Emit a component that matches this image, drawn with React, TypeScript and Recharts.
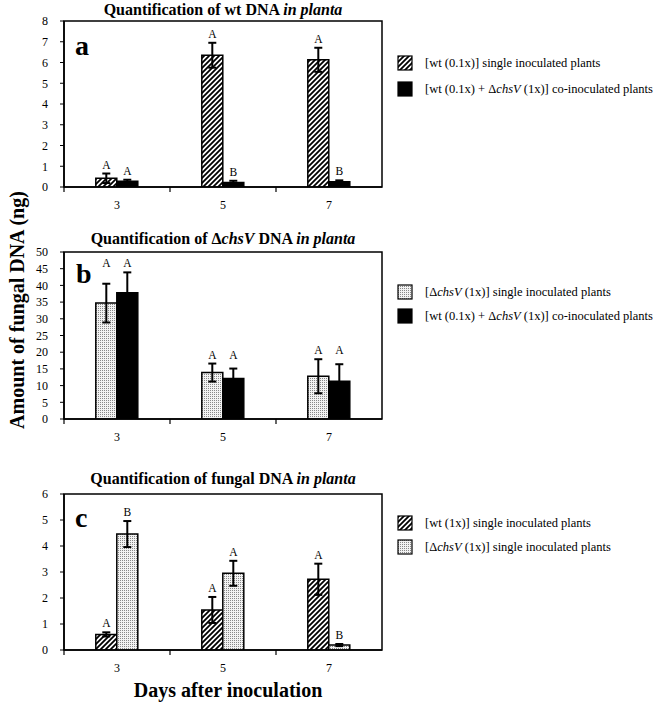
import React from 'react';
import { BarChart, Bar, XAxis, YAxis, ErrorBar, LabelList, ReferenceArea } from 'recharts';

const FONT = '"Liberation Serif", "Times New Roman", serif';

const days = ['3', '5', '7'];

// a: wt DNA in planta
const wtSingleA = [0.42, 6.35, 6.13];
const wtSingleErrA = [0.23, 0.6, 0.58];
const coInocA = [0.28, 0.22, 0.25];
const coInocErrA = [0.07, 0.08, 0.07];
const wtSingleLettersA = ['A', 'A', 'A'];
const coInocLettersA = ['A', 'B', 'B'];
const ticksA = [0, 1, 2, 3, 4, 5, 6, 7, 8];

// b: ΔchsV DNA in planta
const chsSingleB = [34.7, 13.9, 12.8];
const chsSingleErrB = [5.8, 2.7, 5.1];
const coInocB = [37.8, 12.1, 11.3];
const coInocErrB = [6.1, 3.0, 5.1];
const chsSingleLettersB = ['A', 'A', 'A'];
const coInocLettersB = ['A', 'A', 'A'];
const ticksB = [0, 5, 10, 15, 20, 25, 30, 35, 40, 45, 50];

// c: fungal DNA in planta
const wtSingleC = [0.6, 1.54, 2.72];
const wtSingleErrC = [0.08, 0.5, 0.6];
const chsSingleC = [4.46, 2.95, 0.19];
const chsSingleErrC = [0.5, 0.48, 0.04];
const wtSingleLettersC = ['A', 'A', 'A'];
const chsSingleLettersC = ['B', 'A', 'B'];
const ticksC = [0, 1, 2, 3, 4, 5, 6];

const makeRows = (v1: number[], e1: number[], v2: number[], e2: number[]) =>
  days.map((day, i) => ({ day, v1: v1[i], e1: e1[i], v2: v2[i], e2: e2[i] }));

// x ticks: Excel style marks between categories
const DayTick = (props: any) => {
  const { x, y, payload } = props;
  const half = payload?.offset ?? 53;
  return (
    <g>
      <line x1={x - half} x2={x - half} y1={y} y2={y + 5} stroke="#000" strokeWidth={1.2} />
      <text x={x} y={y + 18} textAnchor="middle" dominantBaseline="central" fontSize={12} fontFamily={FONT} fill="#000">
        {payload.value}
      </text>
    </g>
  );
};

const letterLabel = (
  letters: string[],
  vals: number[],
  errs: number[],
  groupTops: number[] | null,
) => (props: any) => {
  const { x, y, width, height, index } = props;
  const v = vals[index];
  if (!v) return null;
  const ppu = Number(height) / v;
  const top = groupTops ? groupTops[index] : v + errs[index];
  const ty = Number(y) + Number(height) - top * ppu - 5;
  return (
    <text x={Number(x) + Number(width) / 2} y={ty} textAnchor="middle" fontSize={11.5} fontFamily={FONT} fill="#000">
      {letters[index]}
    </text>
  );
};

type PanelProps = {
  top: number;
  height: number;
  plotTop: number;
  axisHeight: number;
  max: number;
  ticks: number[];
  v1: number[]; e1: number[]; l1: string[]; fill1: string;
  v2: number[]; e2: number[]; l2: string[]; fill2: string;
  alignLetters?: boolean;
};

function Panel(p: PanelProps) {
  const rows = makeRows(p.v1, p.e1, p.v2, p.e2);
  const groupTops = p.alignLetters
    ? days.map((_, i) => Math.max(p.v1[i] + p.e1[i], p.v2[i] + p.e2[i]))
    : null;
  return (
    <div style={{ position: 'absolute', left: 0, top: p.top }}>
      <BarChart
        width={658}
        height={p.height}
        data={rows}
        margin={{ top: p.plotTop - p.top, right: 276, bottom: 0, left: 0 }}
        barCategoryGap="30%"
        barGap={0}
      >
        <ReferenceArea y1={0} y2={p.max} fill="none" stroke="#000" strokeWidth={1.5} ifOverflow="visible" />
        <XAxis
          dataKey="day"
          height={p.axisHeight}
          interval={0}
          tickSize={0}
          tickMargin={0}
          tickLine={false}
          tick={<DayTick />}
          axisLine={{ stroke: '#000', strokeWidth: 1.5 }}
        />
        <YAxis
          width={64}
          domain={[0, p.max]}
          ticks={p.ticks}
          interval={0}
          allowDataOverflow
          tickSize={4}
          tickMargin={12}
          tickLine={{ stroke: '#000' }}
          axisLine={{ stroke: '#000', strokeWidth: 1.5 }}
          tick={{ fontSize: 12, fill: '#000', fontFamily: FONT }}
        />
        <Bar dataKey="v1" fill={p.fill1} stroke="#000" strokeWidth={1.5} isAnimationActive={false}>
          <ErrorBar dataKey="e1" width={4} stroke="#000" strokeWidth={2} direction="y" />
          <LabelList dataKey="v1" content={letterLabel(p.l1, p.v1, p.e1, groupTops)} />
        </Bar>
        <Bar dataKey="v2" fill={p.fill2} stroke="#000" strokeWidth={1.5} isAnimationActive={false}>
          <ErrorBar dataKey="e2" width={4} stroke="#000" strokeWidth={2} direction="y" />
          <LabelList dataKey="v2" content={letterLabel(p.l2, p.v2, p.e2, groupTops)} />
        </Bar>
      </BarChart>
    </div>
  );
}

const HATCH = 'url(#hatch)';
const DOTS = 'url(#dots)';
const BLACK = '#000';

const chs = (
  <>
    Δ<tspan fontStyle="italic">chsV</tspan>
  </>
);

function LegendRow({ y, fill, children }: { y: number; fill: string; children: React.ReactNode }) {
  return (
    <g>
      <rect x={398} y={y - 7} width={14} height={14} fill={fill} stroke="#000" strokeWidth={1.2} />
      <text x={425} y={y + 4} fontSize={12.5} fontFamily={FONT} fill="#000">
        {children}
      </text>
    </g>
  );
}

export default function App() {
  return (
    <div style={{ position: 'absolute', left: 0, top: 0, width: 658, height: 705, background: '#fff', fontFamily: FONT }}>
      <svg width={0} height={0} style={{ position: 'absolute' }}>
        <defs>
          <pattern id="hatch" patternUnits="userSpaceOnUse" width={5} height={5}>
            <rect width={5} height={5} fill="#fff" />
            <path d="M0,5 L5,0 M-1,1 L1,-1 M4,6 L6,4" stroke="#000" strokeWidth={1.8} />
          </pattern>
          <pattern id="dots" patternUnits="userSpaceOnUse" width={2} height={2}>
            <rect width={2} height={2} fill="#f2f2f2" />
            <rect width={1} height={1} fill="#888" />
          </pattern>
        </defs>
      </svg>

      <Panel
        top={0} height={215} plotTop={21} axisHeight={28} max={8} ticks={ticksA}
        v1={wtSingleA} e1={wtSingleErrA} l1={wtSingleLettersA} fill1={HATCH}
        v2={coInocA} e2={coInocErrA} l2={coInocLettersA} fill2={BLACK}
      />
      <Panel
        top={230} height={217} plotTop={252} axisHeight={28} max={50} ticks={ticksB}
        v1={chsSingleB} e1={chsSingleErrB} l1={chsSingleLettersB} fill1={DOTS}
        v2={coInocB} e2={coInocErrB} l2={coInocLettersB} fill2={BLACK}
        alignLetters
      />
      <Panel
        top={470} height={210} plotTop={494} axisHeight={30} max={6} ticks={ticksC}
        v1={wtSingleC} e1={wtSingleErrC} l1={wtSingleLettersC} fill1={HATCH}
        v2={chsSingleC} e2={chsSingleErrC} l2={chsSingleLettersC} fill2={DOTS}
      />

      <svg width={658} height={705} style={{ position: 'absolute', left: 0, top: 0, pointerEvents: 'none' }}>
        <text x={223} y={15} textAnchor="middle" fontSize={16} fontWeight="bold" fontFamily={FONT}>
          Quantification of wt DNA <tspan fontStyle="italic">in planta</tspan>
        </text>
        <text x={223} y={244} textAnchor="middle" fontSize={16} fontWeight="bold" fontFamily={FONT}>
          Quantification of {chs} DNA <tspan fontStyle="italic">in planta</tspan>
        </text>
        <text x={223} y={484} textAnchor="middle" fontSize={16} fontWeight="bold" fontFamily={FONT}>
          Quantification of fungal DNA <tspan fontStyle="italic">in planta</tspan>
        </text>

        <text x={75} y={55} fontSize={28} fontWeight="bold" fontFamily={FONT}>a</text>
        <text x={76} y={283} fontSize={28} fontWeight="bold" fontFamily={FONT}>b</text>
        <text x={75} y={527} fontSize={28} fontWeight="bold" fontFamily={FONT}>c</text>

        <text
          x={24} y={310} textAnchor="middle" fontSize={20} fontWeight="bold" fontFamily={FONT}
          transform="rotate(-90, 24, 310)"
        >
          Amount of fungal DNA (ng)
        </text>
        <text x={228} y={697} textAnchor="middle" fontSize={20} fontWeight="bold" fontFamily={FONT}>
          Days after inoculation
        </text>

        <LegendRow y={63} fill={HATCH}>[wt (0.1x)] single inoculated plants</LegendRow>
        <LegendRow y={89} fill={BLACK}>[wt (0.1x) + {chs} (1x)] co-inoculated plants</LegendRow>

        <LegendRow y={292} fill={DOTS}>[{chs} (1x)] single inoculated plants</LegendRow>
        <LegendRow y={316} fill={BLACK}>[wt (0.1x) + {chs} (1x)] co-inoculated plants</LegendRow>

        <LegendRow y={523} fill={HATCH}>[wt (1x)] single inoculated plants</LegendRow>
        <LegendRow y={547} fill={DOTS}>[{chs} (1x)] single inoculated plants</LegendRow>
      </svg>
    </div>
  );
}
